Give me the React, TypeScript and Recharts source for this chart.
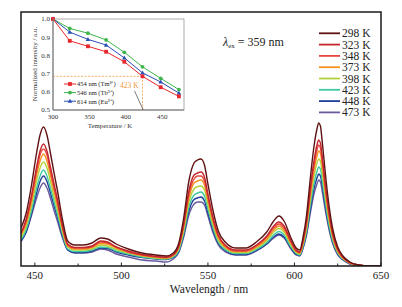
import { LineChart, Line, XAxis, YAxis, ReferenceLine } from 'recharts';

const SERIF = '"Liberation Serif", "Times New Roman", serif';

// emission spectra, wavelength in nm, intensity in arbitrary units
const WAVELENGTHS = [
  442, 445, 448, 451, 453, 455, 457, 459, 461, 463, 466, 469, 473, 478, 483, 488, 492, 497, 504, 512,
  520, 526, 530, 533, 536, 539, 542, 544, 546, 548, 550, 553, 556, 560, 566, 572, 578, 584, 588, 591,
  594, 598, 601, 603, 605, 607, 609, 611, 613, 614, 615, 616, 618, 620, 622, 625, 628, 632, 637, 643, 650,
];
const I_298 = [
  38, 53, 80, 113, 131, 139, 131, 113, 94, 76, 46, 25, 21, 21, 23, 28, 27, 22, 17, 13,
  11, 10, 13, 22, 48, 85, 103, 106, 107, 101, 82, 55, 35, 24, 18, 18, 24, 34, 45, 50,
  45, 28, 18, 16, 29, 51, 85, 116, 137, 143, 140, 125, 90, 60, 38, 19, 10, 4, 1, 0, 0,
];
const I_323 = [
  33, 47, 70, 99, 115, 122, 115, 99, 83, 67, 40, 22, 18.5, 18.5, 20, 25, 24, 19, 15, 11.5,
  9.7, 8.8, 11.5, 19, 42, 75, 91, 93, 94, 89, 72, 48, 31, 21, 16, 16, 21, 30, 40, 44,
  40, 25, 16, 14, 26, 45, 75, 102, 121, 126, 123, 110, 79, 53, 33, 17, 9, 3.5, 1, 0, 0,
];
const I_348 = [
  32, 45, 68, 95, 111, 117, 111, 95, 79, 64, 39, 21, 18, 18, 19, 24, 23, 19, 14, 11,
  9, 8.5, 11, 19, 41, 72, 87, 90, 90, 85, 69, 46, 30, 20, 15, 15, 20, 29, 38, 42,
  38, 24, 15, 13.5, 25, 43, 72, 98, 116, 121, 118, 106, 76, 51, 32, 16, 8.5, 3.4, 1, 0, 0,
];
const I_373 = [
  31, 43, 64, 91, 105, 112, 105, 91, 76, 61, 37, 20, 17, 17, 18.5, 22.5, 22, 18, 14, 10.5,
  9, 8, 10.5, 18, 39, 68, 83, 85, 86, 81, 66, 44, 28, 19, 14.5, 14.5, 19, 27, 36, 40,
  36, 22.5, 14.5, 13, 23, 41, 68, 93, 110, 115, 113, 101, 72, 48, 31, 15, 8, 3, 1, 0, 0,
];
const I_398 = [
  28.5, 40, 60, 85, 98, 104, 98, 85, 70.5, 57, 34.5, 19, 16, 16, 17, 21, 20, 16.5, 13, 10,
  8, 7.5, 10, 16.5, 36, 64, 77, 79.5, 80, 76, 61.5, 41, 26, 18, 13.5, 13.5, 18, 25.5, 34, 37.5,
  34, 21, 13.5, 12, 22, 38, 64, 87, 103, 107, 105, 94, 67.5, 45, 28.5, 14, 7.5, 3, 0.7, 0, 0,
];
const I_423 = [
  26, 36.5, 55, 78, 90, 96, 90, 78, 65, 52, 32, 17, 14.5, 14.5, 16, 19, 18.5, 15, 12, 9,
  7.5, 7, 9, 15, 33, 59, 71, 73, 74, 70, 57, 38, 24, 16.5, 12.5, 12.5, 16.5, 23.5, 31, 34.5,
  31, 19, 12.5, 11, 20, 35, 59, 80, 94.5, 99, 97, 86, 62, 41, 26, 13, 7, 3, 0.5, 0, 0,
];
const I_448 = [
  24.5, 34, 52, 73, 84.5, 90, 84.5, 73, 61, 49, 30, 16, 13.5, 13.5, 15, 18, 17.5, 14, 11, 8.5,
  7, 6.5, 8.5, 14, 31, 55, 66.5, 68, 69, 65, 53, 35.5, 22.5, 15.5, 11.5, 11.5, 15.5, 22, 29, 32,
  29, 18, 11.5, 10.5, 18.5, 33, 55, 75, 88, 92, 90, 81, 58, 39, 24.5, 12, 6.5, 2.5, 0.5, 0, 0,
];
const I_473 = [
  26, 34, 50, 68, 78, 83, 78, 68, 56, 45, 28, 16, 13, 13, 14, 17, 16, 12, 9, 6,
  5, 4, 7, 13, 29, 51, 62, 64, 64, 61, 50, 33, 21, 14, 11, 11, 15, 22, 28, 31,
  28, 17, 11, 10, 18, 31, 51, 70, 82, 86, 84, 75, 54, 36, 23, 11, 6, 2, 0, 0, 0,
];
const TEMPS = ['298 K', '323 K', '348 K', '373 K', '398 K', '423 K', '448 K', '473 K'];
const COLORS = ['#5e1212', '#c3262b', '#ea4640', '#f7921e', '#b3d23a', '#3fc9a0', '#1f3f98', '#6b5a9e'];
const SERIES = [I_298, I_323, I_348, I_373, I_398, I_423, I_448, I_473];
const WAVE_TICKS = [450, 475, 500, 525, 550, 575, 600, 625, 650];

// inset: normalised intensity vs temperature
const INSET_T = [300, 323, 348, 373, 398, 423, 448, 473];
const TM_454 = [1.0, 0.88, 0.85, 0.82, 0.765, 0.685, 0.625, 0.575];
const TB_546 = [1.0, 0.948, 0.922, 0.885, 0.817, 0.737, 0.674, 0.612];
const EU_614 = [1.0, 0.928, 0.888, 0.857, 0.786, 0.704, 0.654, 0.593];
const INSET_X_TICKS = [300, 350, 400, 450];
const INSET_Y_TICKS = [0.5, 0.6, 0.7, 0.8, 0.9, 1.0];
const THRESH_T = 423;
const THRESH_I = 0.685;

const spectra = WAVELENGTHS.map((w, i) => {
  const row: Record<string, number> = { w };
  SERIES.forEach((s, k) => {
    row['t' + k] = s[i];
  });
  return row;
});

const inset = INSET_T.map((t, i) => ({ t, tm: TM_454[i], tb: TB_546[i], eu: EU_614[i] }));

const WaveTick = (props: any) => {
  const { x, y, payload } = props;
  const major = payload.value % 50 === 0;
  return (
    <g>
      <line x1={x} x2={x} y1={y} y2={y - (major ? 3.5 : 2.5)} stroke="#222" strokeWidth={1} />
      {major && (
        <text x={x} y={y + 12.5} textAnchor="middle" fontSize={11} fill="#222" fontFamily={SERIF}>
          {payload.value}
        </text>
      )}
    </g>
  );
};

const SquareDot = (p: any) => (
  <rect key={`sq-${p.index}`} x={p.cx - 1.9} y={p.cy - 1.9} width={3.8} height={3.8} fill={p.stroke} />
);
const CircleDot = (p: any) => <circle key={`ci-${p.index}`} cx={p.cx} cy={p.cy} r={1.9} fill={p.stroke} />;
const TriDot = (p: any) => (
  <path
    key={`tr-${p.index}`}
    d={`M${p.cx},${p.cy - 2.4}L${p.cx + 2.3},${p.cy + 1.6}L${p.cx - 2.3},${p.cy + 1.6}Z`}
    fill={p.stroke}
  />
);

const INSET_LEGEND = [
  { label: '454 nm (Tm³⁺)', color: '#e8262b', shape: 'sq' },
  { label: '546 nm (Tb³⁺)', color: '#3db54a', shape: 'ci' },
  { label: '614 nm (Eu³⁺)', color: '#2a4fb4', shape: 'tr' },
];

export default function App() {
  return (
    <div style={{ position: 'absolute', left: 0, top: 0, width: 402, height: 307, background: '#fff' }}>
      <div style={{ position: 'absolute', left: 0, top: 0 }}>
        <LineChart width={402} height={307} data={spectra} margin={{ top: 12, right: 21, bottom: 0, left: 21 }}>
          <XAxis
            dataKey="w"
            type="number"
            domain={[442, 650]}
            ticks={WAVE_TICKS}
            interval={0}
            tickSize={0}
            tickMargin={0}
            axisLine={false}
            tickLine={false}
            tick={WaveTick}
            height={41}
            allowDataOverflow
          />
          <YAxis hide domain={[0, 254]} allowDataOverflow />
          {SERIES.map((_, k) => 7 - k).map((k) => (
            <Line
              key={TEMPS[k]}
              dataKey={'t' + k}
              type="monotone"
              stroke={COLORS[k]}
              strokeWidth={1.4}
              dot={false}
              activeDot={false}
              isAnimationActive={false}
            />
          ))}
        </LineChart>
      </div>

      <div style={{ position: 'absolute', left: 0, top: 0 }}>
        <LineChart width={200} height={135} data={inset} margin={{ top: 19, right: 16, bottom: 0, left: 33 }}>
          <XAxis
            dataKey="t"
            type="number"
            domain={[300, 480]}
            ticks={INSET_X_TICKS}
            interval={0}
            tickSize={0}
            tickMargin={4}
            tickLine={false}
            axisLine={{ stroke: '#444', strokeWidth: 0.8 }}
            tick={{ fontSize: 7, fill: '#333', fontFamily: SERIF }}
            height={25}
          />
          <YAxis
            type="number"
            domain={[0.5, 1.0]}
            ticks={INSET_Y_TICKS}
            interval={0}
            tickSize={0}
            tickMargin={3}
            tickLine={false}
            axisLine={{ stroke: '#444', strokeWidth: 0.8 }}
            tickFormatter={(v: number) => v.toFixed(1)}
            tick={{ fontSize: 7, fill: '#333', fontFamily: SERIF }}
            width={20}
          />
          <ReferenceLine
            segment={[{ x: 300, y: THRESH_I }, { x: THRESH_T, y: THRESH_I }]}
            stroke="#f39a3c"
            strokeWidth={0.8}
            strokeDasharray="2 1.5"
          />
          <ReferenceLine
            segment={[{ x: THRESH_T, y: THRESH_I }, { x: THRESH_T, y: 0.5 }]}
            stroke="#f39a3c"
            strokeWidth={0.8}
            strokeDasharray="2 1.5"
          />
          <ReferenceLine segment={[{ x: 412, y: 0.605 }, { x: 424, y: 0.5 }]} stroke="#222" strokeWidth={0.6} />
          <Line dataKey="tb" stroke="#3db54a" strokeWidth={1} dot={CircleDot} activeDot={false} isAnimationActive={false} />
          <Line dataKey="eu" stroke="#2a4fb4" strokeWidth={1} dot={TriDot} activeDot={false} isAnimationActive={false} />
          <Line dataKey="tm" stroke="#e8262b" strokeWidth={1} dot={SquareDot} activeDot={false} isAnimationActive={false} />
        </LineChart>
      </div>

      <svg
        width={402}
        height={307}
        style={{ position: 'absolute', left: 0, top: 0, pointerEvents: 'none' }}
        fontFamily={SERIF}
      >
        <rect x={21} y={12} width={360} height={254} fill="none" stroke="#1a1a1a" strokeWidth={1.5} />
        <rect x={53} y={19} width={131} height={91} fill="none" stroke="#888" strokeWidth={0.7} />

        <text x={35} y={64} fontSize={7} fill="#333" textAnchor="middle" dominantBaseline="middle" transform="rotate(-90 35 64)">
          Normalized intensity / a.u.
        </text>
        <text x={110} y={127.5} fontSize={6.8} fill="#333" textAnchor="middle">
          Temperature / K
        </text>
        <text x={120} y={87.5} fontSize={7.5} fill="#f39a3c">
          423 K
        </text>

        {INSET_LEGEND.map((e, i) => {
          const cy = 84 + i * 8.6;
          return (
            <g key={e.label}>
              <line x1={64} x2={76} y1={cy} y2={cy} stroke={e.color} strokeWidth={1} />
              {e.shape === 'sq' && <rect x={68.1} y={cy - 1.9} width={3.8} height={3.8} fill={e.color} />}
              {e.shape === 'ci' && <circle cx={70} cy={cy} r={1.9} fill={e.color} />}
              {e.shape === 'tr' && <path d={`M70,${cy - 2.4}L72.3,${cy + 1.6}L67.7,${cy + 1.6}Z`} fill={e.color} />}
              <text x={77} y={cy + 2.3} fontSize={6.5} fill="#222">
                {e.label}
              </text>
            </g>
          );
        })}

        <text x={223} y={45.5} fontSize={12} fill="#222">
          <tspan fontStyle="italic">λ</tspan>
          <tspan fontSize={7} dy={2.5}>ex</tspan>
          <tspan dy={-2.5}> = 359 nm</tspan>
        </text>

        {TEMPS.map((t, i) => {
          const cy = 33.3 + i * 11.3;
          return (
            <g key={t}>
              <line x1={319} x2={340} y1={cy} y2={cy} stroke={COLORS[i]} strokeWidth={1.8} />
              <text x={342} y={cy + 4} fontSize={11.5} fill="#222">
                {t}
              </text>
            </g>
          );
        })}

        <text x={209} y={293} fontSize={11.5} fill="#222" textAnchor="middle">
          Wavelength / nm
        </text>
      </svg>
    </div>
  );
}
